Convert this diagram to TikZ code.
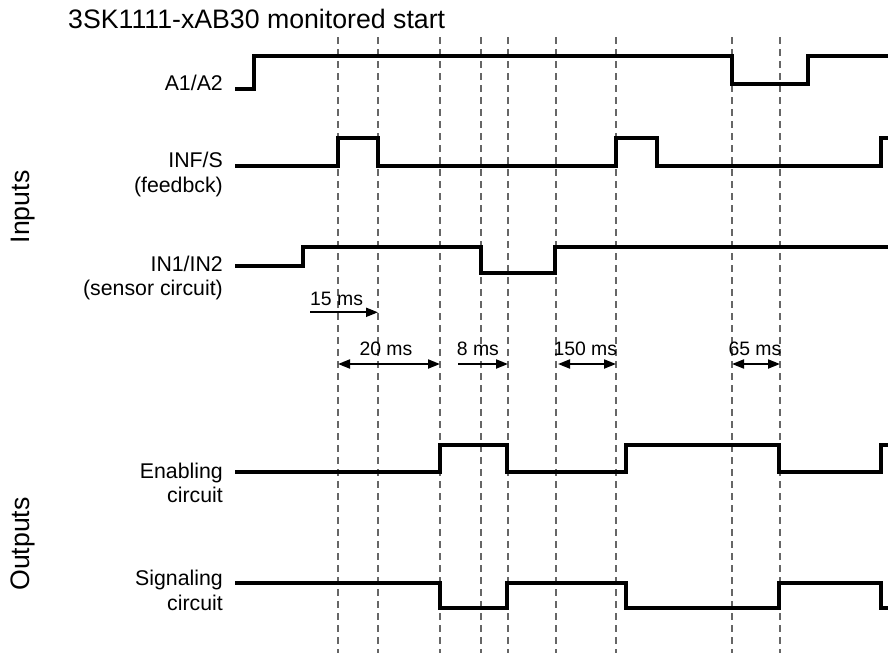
\documentclass[tikz,border=0pt]{standalone}
\usepackage{fontspec}
\setmainfont{Liberation Sans}
\usetikzlibrary{arrows.meta}
\begin{document}
\begin{tikzpicture}[x=1pt,y=-1pt,
  sig/.style={line width=4pt, line join=miter},
  guide/.style={line width=1.3pt, black!60, dash pattern=on 7pt off 5pt},
  dimone/.style={line width=2pt, -{Triangle[length=12pt,width=9pt]}},
  dimtwo/.style={line width=2pt, {Triangle[length=12pt,width=9pt]}-{Triangle[length=12pt,width=9pt]}},
  lbl/.style={font=\fontsize{21.3}{25}\selectfont, anchor=base east, inner sep=0pt},
  mslbl/.style={font=\fontsize{19.4}{23}\selectfont, anchor=base west, inner sep=0pt},
  big/.style={font=\fontsize{26.7}{32}\selectfont, inner sep=0pt}]
\useasboundingbox (0,0) rectangle (888,653);
% title and group labels
\node[big, anchor=base west] (title) at (68,28.3) {3SK1111-xAB30 monitored start};
\node[big, rotate=90] (inputs) at (23,207) {Inputs};
\node[big, rotate=90] (outputs) at (23,544) {Outputs};
% guide lines
\foreach \x/\n in {338/g1,378/g2,440/g3,481/g4,508/g5,556/g6,616/g7,732/g8,780/g9}
  \draw[guide] (\x,37) coordinate (\n top) -- (\x,653) coordinate (\n bot);
% signal labels
\node[lbl] (la1) at (223,90.7) {A1/A2};
\node[lbl] (linf) at (223,167.7) {INF/S};
\node[lbl] (linf2) at (223,192.5) {(feedbck)};
\node[lbl] (lin) at (223,271.7) {IN1/IN2};
\node[lbl] (lin2) at (223,295.7) {(sensor circuit)};
\node[lbl] (len) at (223,478.3) {Enabling};
\node[lbl] (len2) at (223,502.7) {circuit};
\node[lbl] (lsg) at (223,585) {Signaling};
\node[lbl] (lsg2) at (223,610) {circuit};
% signals
\draw[sig] (235,89) -- (254,89) -- (254,56) -- (732,56) -- (732,84) -- (808,84) -- (808,56) -- (888,56);
\draw[sig] (235,165.5) -- (338,165.5) -- (338,138) -- (378,138) -- (378,165.5) -- (616,165.5) -- (616,138) -- (657,138) -- (657,165.5) -- (881,165.5) -- (881,138) -- (888,138);
\draw[sig] (235,266) -- (303,266) -- (303,246.5) -- (481,246.5) -- (481,273) -- (555,273) -- (555,246.5) -- (888,246.5);
\draw[sig] (235,472) -- (440,472) -- (440,444.5) -- (507,444.5) -- (507,472) -- (626,472) -- (626,444.5) -- (779,444.5) -- (779,472) -- (881,472) -- (881,444.5) -- (888,444.5);
\draw[sig] (235,582.5) -- (440,582.5) -- (440,608) -- (507,608) -- (507,582.5) -- (626,582.5) -- (626,608) -- (779,608) -- (779,582.5) -- (881,582.5) -- (881,608) -- (888,608);
% timing labels
\node[mslbl] (m15) at (310,305.7) {15 ms};
\node[mslbl] (m20) at (359.3,355) {20 ms};
\node[mslbl] (m8) at (456.7,355) {8 ms};
\node[mslbl] (m150) at (553.3,355) {150 ms};
\node[mslbl] (m65) at (728.3,355) {65 ms};
% timing arrows
\coordinate (a15s) at (310,312.3); \coordinate (a15e) at (378,312.3);
\coordinate (a20s) at (338,364); \coordinate (a20e) at (440,364);
\coordinate (a8s) at (458,364); \coordinate (a8e) at (508,364);
\coordinate (a150s) at (558,364); \coordinate (a150e) at (616,364);
\coordinate (a65s) at (732,364); \coordinate (a65e) at (780,364);
\draw[dimone] (a15s) -- (a15e);
\draw[dimtwo] (a20s) -- (a20e);
\draw[dimone] (a8s) -- (a8e);
\draw[dimtwo] (a150s) -- (a150e);
\draw[dimtwo] (a65s) -- (a65e);
\end{tikzpicture}
\end{document}
